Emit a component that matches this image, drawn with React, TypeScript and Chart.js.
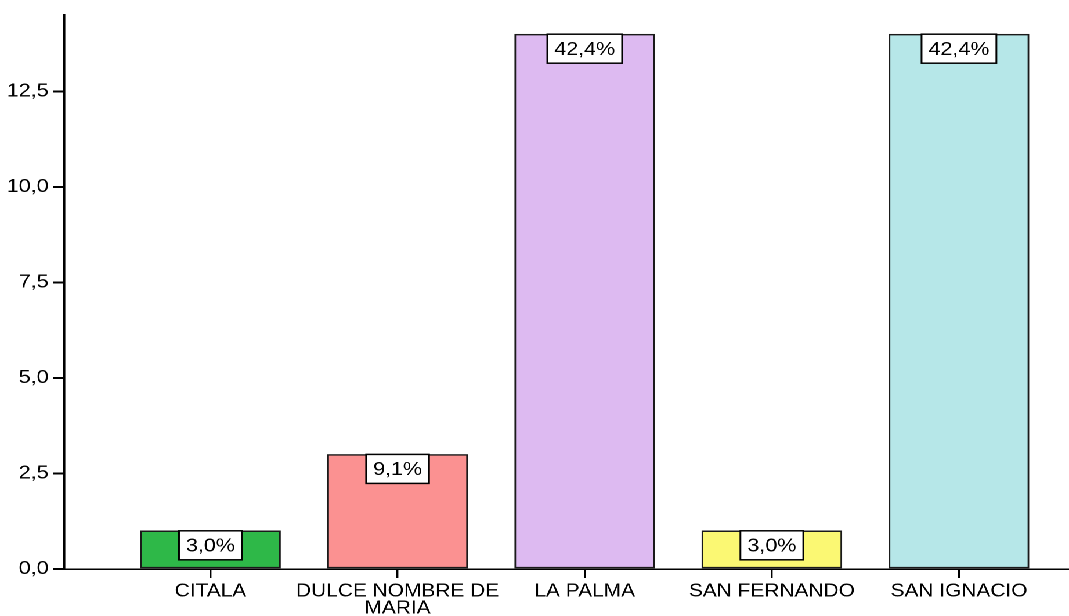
import React, { useEffect, useRef } from 'react';
import { Chart, registerables } from 'chart.js';

Chart.register(...registerables);

// ---- data ----
const categories = ['CITALA', 'DULCE NOMBRE DE MARIA', 'LA PALMA', 'SAN FERNANDO', 'SAN IGNACIO'];
const counts = [1, 3, 14, 1, 14];
const barColors = ['#2EB848', '#FB9191', '#DDBAF1', '#FBF873', '#B6E7E8'];
const yTickValues = [0, 2.5, 5, 7.5, 10, 12.5];

// ---- layout ----
const INNER_W = 921;
const H = 616;
const STRETCH = 1069 / INNER_W;
const FONT = 'Liberation Sans, Arial, Helvetica, sans-serif';
const FS = 18;

function wrap(label: string, max = 15): string[] {
  const words = label.split(' ');
  const lines: string[] = [];
  let cur = '';
  for (const w of words) {
    const next = cur ? cur + ' ' + w : w;
    if (next.length > max && cur) {
      lines.push(cur);
      cur = w;
    } else cur = next;
  }
  if (cur) lines.push(cur);
  return lines;
}

const fmt = (v: number, d: number) => v.toFixed(d).replace('.', ',');

const labelBoxPlugin = {
  id: 'labelBoxes',
  afterDatasetsDraw(chart: any) {
    const ctx = chart.ctx;
    const meta = chart.getDatasetMeta(0);
    const total = counts.reduce((a, b) => a + b, 0);
    ctx.save();
    ctx.font = `18.5px ${FONT}`;
    ctx.textAlign = 'center';
    ctx.textBaseline = 'middle';
    meta.data.forEach((el: any, i: number) => {
      const text = fmt((counts[i] / total) * 100, 1) + '%';
      const tw = ctx.measureText(text).width;
      const w = tw + 12;
      const h = 29;
      const x = el.x - w / 2;
      const y = el.y;
      ctx.fillStyle = '#ffffff';
      ctx.fillRect(x, y, w, h);
      ctx.strokeStyle = '#000000';
      ctx.lineWidth = 1.5;
      ctx.strokeRect(x, y, w, h);
      ctx.fillStyle = '#000000';
      ctx.fillText(text, el.x, y + h / 2 + 1);
    });
    ctx.restore();
  },
};

export default function App() {
  const ref = useRef<HTMLCanvasElement>(null);

  useEffect(() => {
    if (!ref.current) return;
    const chart = new Chart(ref.current, {
      type: 'bar',
      data: {
        datasets: [
          {
            data: categories.map((c, i) => ({ x: i, y: counts[i] })) as any,
            backgroundColor: barColors,
            borderColor: '#1a1a1a',
            borderWidth: 1.5,
            borderSkipped: false,
            barThickness: 120.6,
          },
        ],
      },
      options: {
        animation: false,
        responsive: true,
        maintainAspectRatio: false,
        devicePixelRatio: 2,
        layout: { padding: { top: 14, left: 0, right: 0, bottom: 0 } },
        plugins: {
          legend: { display: false },
          tooltip: { enabled: false },
        },
        scales: {
          x: {
            type: 'linear',
            offset: false,
            min: -0.781,
            max: 4.588,
            afterBuildTicks: (axis: any) => {
              axis.ticks = categories.map((c, i) => ({ value: i }));
            },
            afterFit: (axis: any) => {
              axis.height = 47;
            },
            grid: {
              offset: false,
              drawOnChartArea: false,
              drawTicks: true,
              tickLength: 9,
              color: '#000000',
              lineWidth: 1.7,
            },
            border: { display: true, color: '#000000', width: 1.5 },
            ticks: {
              padding: 5,
              color: '#000000',
              font: { family: FONT, size: FS, lineHeight: 0.95 },
              maxRotation: 0,
              autoSkip: false,
              callback: (v: any) => {
                const lbl = categories[Math.round(Number(v))];
                return lbl ? wrap(lbl) : '';
              },
            },
          },
          y: {
            type: 'linear',
            min: 0,
            max: 14.5,
            afterBuildTicks: (axis: any) => {
              axis.ticks = yTickValues.map((v) => ({ value: v }));
            },
            afterFit: (axis: any) => {
              axis.width = 55.4;
            },
            grid: {
              drawOnChartArea: false,
              drawTicks: true,
              tickLength: 9.5,
              color: '#000000',
              lineWidth: 2,
            },
            border: { display: true, color: '#000000', width: 1.8 },
            ticks: {
              padding: 4,
              color: '#000000',
              font: { family: FONT, size: 18.5 },
              callback: (v: any) => fmt(Number(v), 1),
            },
          },
        },
      },
      plugins: [labelBoxPlugin],
    });
    return () => chart.destroy();
  }, []);

  return (
    <div
      style={{
        position: 'absolute',
        left: 0,
        top: 0,
        width: INNER_W,
        height: H,
        transform: `scaleX(${STRETCH})`,
        transformOrigin: '0 0',
        background: '#ffffff',
      }}
    >
      <canvas ref={ref} />
    </div>
  );
}
